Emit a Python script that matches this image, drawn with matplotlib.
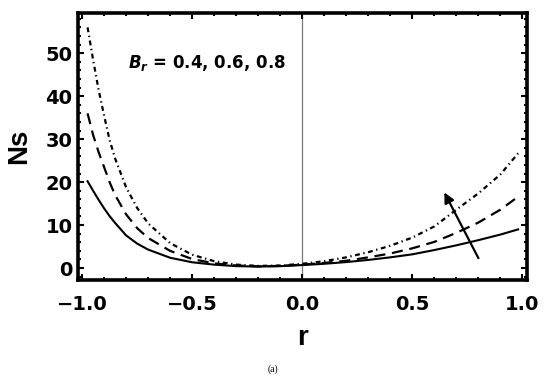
import matplotlib
matplotlib.use("Agg")
import matplotlib.pyplot as plt

# values
r = [-0.975, -0.95, -0.925, -0.9, -0.875, -0.85, -0.8, -0.75, -0.7, -0.6,
     -0.5, -0.4, -0.3, -0.2, -0.1, 0.0, 0.1, 0.2, 0.3, 0.4, 0.5, 0.6, 0.7,
     0.8, 0.9, 0.98]
ns_br04 = [20.2, 18.0, 15.9, 13.9, 12.1, 10.5, 7.6, 5.7, 4.3, 2.4, 1.35, 0.8,
           0.45, 0.35, 0.45, 0.7, 1.0, 1.4, 1.9, 2.5, 3.2, 4.2, 5.3, 6.5,
           7.8, 9.0]
ns_br06 = [36.0, 31.0, 27.0, 23.5, 20.0, 17.0, 12.5, 9.3, 7.0, 4.0, 2.1, 1.1,
           0.6, 0.4, 0.5, 0.8, 1.2, 1.7, 2.5, 3.4, 4.6, 6.1, 8.2, 10.6,
           13.6, 16.6]
ns_br08 = [56.0, 48.5, 41.5, 35.5, 29.8, 25.5, 18.8, 14.0, 10.4, 5.8, 3.1,
           1.6, 0.8, 0.5, 0.6, 1.0, 1.6, 2.5, 3.7, 5.2, 7.1, 9.7, 13.6, 17.4,
           21.8, 26.7]
x_ticks = [-1.0, -0.5, 0.0, 0.5, 1.0]
x_labels = ["\u22121.0", "\u22120.5", "0.0", "0.5", "1.0"]
y_ticks = [0, 10, 20, 30, 40, 50]

plt.rcParams["font.family"] = ["Liberation Sans", "DejaVu Sans"]
plt.rcParams["mathtext.fontset"] = "custom"
plt.rcParams["mathtext.it"] = "DejaVu Sans:bold:italic"
plt.rcParams["mathtext.rm"] = "DejaVu Sans:bold"

fig = plt.figure(figsize=(5.5, 3.77), dpi=100)
ax = fig.add_axes([0.142, 0.257, 0.816, 0.708])

ax.axvline(0, color="#777777", linewidth=0.9, zorder=1)
ax.plot(r, ns_br04, color="black", linewidth=1.5, zorder=3)
ax.plot(r, ns_br06, color="black", linewidth=1.6, dashes=(5, 3), zorder=3)
ax.plot(r, ns_br08, color="black", linewidth=1.6,
        dashes=(2.2, 1.6, 0.6, 1.6), zorder=3)

ax.annotate("", xy=(0.645, 17.6), xytext=(0.80, 2.3),
            arrowprops=dict(arrowstyle="-|>", color="black", lw=1.6,
                            mutation_scale=15, shrinkA=0, shrinkB=0))

ax.text(-0.79, 47.7, r"$B_r$ = 0.4, 0.6, 0.8", fontsize=12,
        fontweight="bold", family="DejaVu Sans", ha="left", va="center")

ax.set_xlim(-1.018, 1.02)
ax.set_ylim(-2.8, 59.3)
ax.set_xticks(x_ticks)
ax.set_xticklabels(x_labels)
ax.set_yticks(y_ticks)
ax.set_xticks([i / 10 for i in range(-10, 11)], minor=True)
ax.set_yticks(list(range(-2, 59, 2)), minor=True)

for s in ax.spines.values():
    s.set_linewidth(2.6)
ax.tick_params(which="both", direction="in", top=True, right=True,
               width=1.5)
ax.tick_params(which="major", length=4.5, labelsize=14)
ax.tick_params(which="minor", length=2.5)
ax.tick_params(axis="x", which="major", pad=11)
ax.tick_params(axis="y", which="major", pad=4)
for lab in ax.get_xticklabels() + ax.get_yticklabels():
    lab.set_fontweight("bold")
    lab.set_family("DejaVu Sans")

ax.set_xlabel("r", fontsize=20, fontweight="bold", labelpad=8)
ax.set_ylabel("Ns", fontsize=20, fontweight="bold", labelpad=10)

fig.text(0.496, 0.02, "(a)", fontsize=7, family="Liberation Serif",
         ha="center", va="center")

fig.savefig("out.png", dpi=100)
